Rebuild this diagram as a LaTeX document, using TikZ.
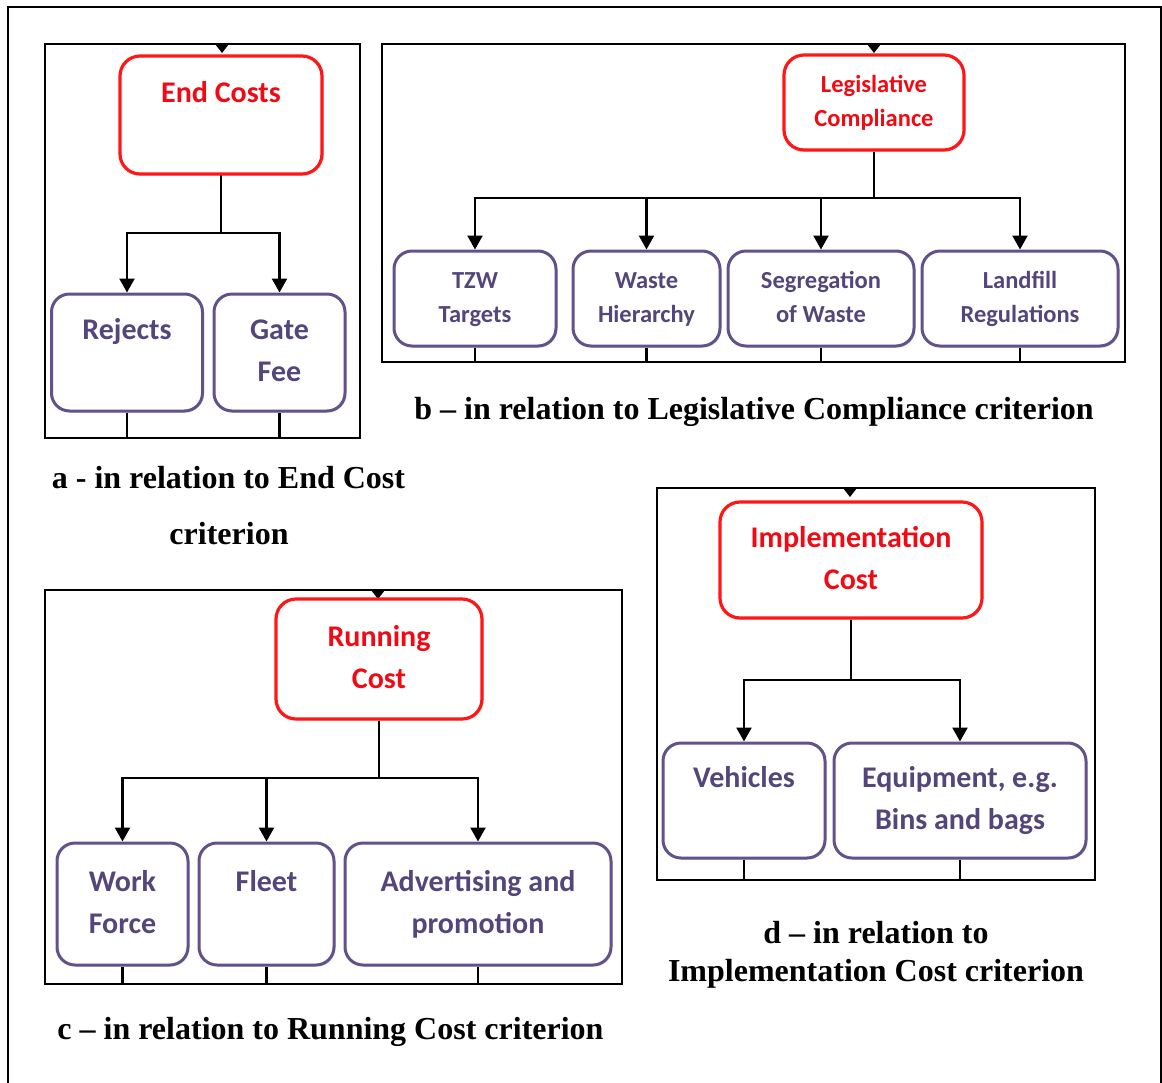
\documentclass[tikz,border=0pt]{standalone}
\usepackage{fontspec}
\setmainfont{Liberation Serif}
\newfontfamily\boxfont{Carlito}
\usetikzlibrary{arrows.meta,shadows}

\definecolor{boxred}{RGB}{255,22,22}
\definecolor{txtred}{RGB}{240,10,20}
\definecolor{boxpurple}{RGB}{98,82,140}
\definecolor{txtpurple}{RGB}{84,70,122}

% two centred lines, each with a strut so every box has the same layout
\newcommand\twolines[2]{\strut#1\\\strut#2}

\tikzset{
  panel/.style={draw=black, line width=1.6pt},
  rootbox/.style={draw=boxred, line width=3.2pt, rounded corners=20pt, fill=white,
    text=txtred, align=center, inner sep=0pt, boxshadow},
  leafbox/.style={draw=boxpurple, line width=3pt, rounded corners=18pt, fill=white,
    text=txtpurple, align=center, inner sep=0pt, boxshadow},
  boxbig/.style={font=\boxfont\bfseries\fontsize{30}{42}\selectfont},
  boxsmall/.style={font=\boxfont\bfseries\fontsize{24.5}{34}\selectfont},
  wire/.style={draw=black, line width=2.4pt},
  wirearrow/.style={wire, -{Triangle[width=15pt,length=14pt]}},
  captext/.style={font=\bfseries\fontsize{32}{38}\selectfont, anchor=base},
  boxshadow/.style={drop shadow={shadow xshift=1.5pt, shadow yshift=-1.5pt, opacity=0.22, fill=gray}},
}

\begin{document}
\begin{tikzpicture}[x=1pt, y=-1pt]
\useasboundingbox (0,0) rectangle (1162,1082);

% outer frame (open at the bottom)
\draw[line width=2pt] (8,1100) -- (8,7) -- (1161,7) -- (1161,1100);

% ---------------- a: End Costs ----------------
\draw[panel] (45,44) rectangle (360,438);
\fill (215,44) -- (229,44) -- (222,53) -- cycle;
\coordinate (abot) at (0,438);
\coordinate (aj) at (221,233);
\draw[wire] (221,115) -- (aj);
\node[rootbox, boxbig, minimum width=202pt, minimum height=118pt] (endc) at (221,115) {\twolines{End Costs}{~}};
\node[leafbox, boxbig, minimum width=151pt, minimum height=117pt] (rej) at (127,352.5) {\twolines{Rejects}{~}};
\node[leafbox, boxbig, minimum width=131pt, minimum height=117pt] (gate) at (279.5,352.5) {\twolines{Gate}{Fee}};
\draw[wire] (endc.south) -- (aj);
\draw[wirearrow] (aj) -| (rej.north);
\draw[wirearrow] (aj) -| (gate.north);
\draw[wire] (rej.south) -- (rej.south |- abot);
\draw[wire] (gate.south) -- (gate.south |- abot);
\node[captext] (capa1) at (228.5,488) {a - in relation to End Cost};
\node[captext] (capa2) at (229,544) {criterion};

% ---------------- b: Legislative Compliance ----------------
\draw[panel] (382,44) rectangle (1125,362);
\fill (867,44) -- (881,44) -- (874,53) -- cycle;
\coordinate (bbot) at (0,362);
\coordinate (bj) at (874,198);
\node[rootbox, boxsmall, minimum width=180pt, minimum height=95pt] (leg) at (874,102.5) {\twolines{Legislative}{Compliance}};
\node[leafbox, boxsmall, minimum width=162pt, minimum height=95pt] (tzw) at (475,298.5) {\twolines{TZW}{Targets}};
\node[leafbox, boxsmall, minimum width=147pt, minimum height=95pt] (wh) at (646.5,298.5) {\twolines{Waste}{Hierarchy}};
\node[leafbox, boxsmall, minimum width=186pt, minimum height=95pt] (seg) at (821,298.5) {\twolines{Segregation}{of Waste}};
\node[leafbox, boxsmall, minimum width=196pt, minimum height=95pt] (land) at (1020,298.5) {\twolines{Landfill}{Regulations}};
\draw[wire] (leg.south) -- (bj);
\draw[wirearrow] (bj) -| (tzw.north);
\draw[wirearrow] (bj) -| (wh.north);
\draw[wirearrow] (bj) -| (seg.north);
\draw[wirearrow] (bj) -| (land.north);
\foreach \n in {tzw,wh,seg,land}
  \draw[wire] (\n.south) -- (\n.south |- bbot);
\node[captext] (capb) at (754,419) {b -- in relation to Legislative Compliance criterion};

% ---------------- c: Running Cost ----------------
\draw[panel] (45,590) rectangle (622,984);
\fill (371,590) -- (385,590) -- (378,599) -- cycle;
\coordinate (cbot) at (0,984);
\coordinate (cj) at (379,778);
\node[rootbox, boxbig, minimum width=206pt, minimum height=120pt] (run) at (379,659) {\twolines{Running}{Cost}};
\node[leafbox, boxbig, minimum width=131pt, minimum height=122pt] (work) at (122.5,904) {\twolines{Work}{Force}};
\node[leafbox, boxbig, minimum width=135pt, minimum height=122pt] (fleet) at (266.5,904) {\twolines{Fleet}{~}};
\node[leafbox, boxbig, minimum width=266pt, minimum height=122pt] (adv) at (478,904) {\twolines{Advertising and}{promotion}};
\draw[wire] (run.south) -- (cj);
\draw[wirearrow] (cj) -| (work.north);
\draw[wirearrow] (cj) -| (fleet.north);
\draw[wirearrow] (cj) -| (adv.north);
\foreach \n in {work,fleet,adv}
  \draw[wire] (\n.south) -- (\n.south |- cbot);
\node[captext] (capc) at (330.5,1039) {c -- in relation to Running Cost criterion};

% ---------------- d: Implementation Cost ----------------
\draw[panel] (657,488) rectangle (1095,880);
\fill (843,488) -- (857,488) -- (850,497) -- cycle;
\coordinate (dbot) at (0,880);
\coordinate (dj) at (851,680);
\node[rootbox, boxbig, minimum width=262pt, minimum height=116pt] (impl) at (851,560) {\twolines{Implementation}{Cost}};
\node[leafbox, boxbig, minimum width=162pt, minimum height=115pt] (veh) at (744,800.5) {\twolines{Vehicles}{~}};
\node[leafbox, boxbig, minimum width=252pt, minimum height=115pt] (equip) at (960,800.5) {\twolines{Equipment, e.g.}{Bins and bags}};
\draw[wire] (impl.south) -- (dj);
\draw[wirearrow] (dj) -| (veh.north);
\draw[wirearrow] (dj) -| (equip.north);
\foreach \n in {veh,equip}
  \draw[wire] (\n.south) -- (\n.south |- dbot);
\node[captext] (capd1) at (876,943) {d -- in relation to};
\node[captext] (capd2) at (876,981) {Implementation Cost criterion};

\end{tikzpicture}
\end{document}
